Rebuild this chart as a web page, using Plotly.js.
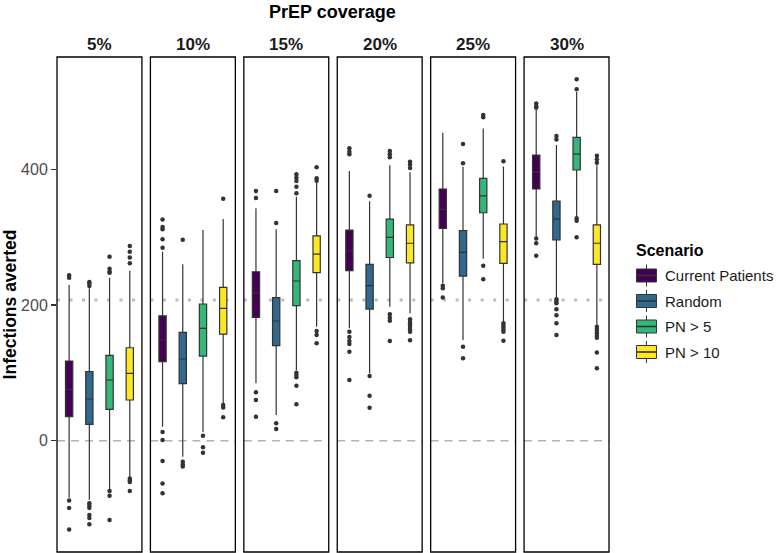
<!DOCTYPE html>
<html>
<head>
<meta charset="utf-8">
<script src="https://cdn.plot.ly/plotly-3.0.1.min.js"></script>
<style>html,body{margin:0;padding:0;background:#fff;}#chart{width:782px;height:553px;}</style>
</head>
<body>
<div id="chart"></div>
<script>
// ---- data ----
const coverages = ['5%', '10%', '15%', '20%', '25%', '30%'];
const scenarios = ['Current Patients', 'Random', 'PN > 5', 'PN > 10'];
const scenarioColors = ['#440154', '#31688E', '#35B779', '#FDE725'];

// rows: scenarios; columns: coverages
const q1 = [
  [35.4, 116.5, 181.9, 250.6, 313, 371],
  [24, 84, 140, 194, 242.7, 295.8],
  [46.3, 124.8, 199, 270, 336, 399],
  [60, 157, 247.6, 262, 261.4, 260]
];
const medians = [
  [75.7, 148.4, 218, 280, 341, 396.5],
  [61.5, 120.4, 176.4, 228.5, 277.7, 326.7],
  [89.5, 165.6, 235.4, 299.7, 360.7, 422.5],
  [99.3, 195, 275, 291, 293.3, 291]
];
const q3 = [
  [117.5, 184, 249, 310.5, 371, 421],
  [102, 159.8, 210.8, 260, 309.5, 353],
  [125.9, 201.5, 265.3, 326.7, 386.7, 447],
  [137, 226, 302, 318, 319.4, 318]
];
const lowerWhisker = [
  [-84, 20.6, 84.6, 165.6, 232, 299],
  [-87, -23.6, 37.9, 99.3, 148.4, 210],
  [-72.7, 13, 104, 197.5, 268, 330],
  [-53, 55, 168, 187.8, 175.4, 170.5]
];
const upperWhisker = [
  [229.5, 278.6, 342.5, 397.5, 454, 487.4],
  [224.6, 260, 311.5, 353, 403.8, 435.8],
  [240, 310.5, 359.6, 406, 460, 514],
  [250.6, 326.8, 380, 395.5, 404, 406]
];
const outliers = [
  [[244, 240, -88, -99, -131], [326, 315, 311.5, 297, 284.5, 13, 1, -30, -63, -77.5], [368, 357.7, 71.3, 60, 35.4], [431, 426, 422, 160.6, 153, 147, 142.5, 131, 89.5], [228.5, 224.6, 211], [497, 493, 490.8, 298, 291, 272.7]],
  [[234, 232, 228, -92, -96, -99, -109.5, -114, -123], [296, -31, -35, -38], [368, 321, 25.6, 17.2], [361, 95.4, 66.3, 48.6], [437.3, 408.8, 138.5, 121.4], [449, 444, 208.4, 205, 202.5, 193.6, 185, 173, 155.8]],
  [[271, 253.5, 249, 247.6, -74, -81, -117], [7.4, -9.8, -17.7], [392.6, 387.6, 382.8, 374.4, 364.6, 100, 96.8, 93.4, 81, 53.6], [427, 422, 417.7, 186.3, 181.3, 176.9, 147], [480, 476.6, 258, 238], [532.6, 518, 327.8, 324.2, 299.8]],
  [[287, 278.6, 270, 261.5, -55.5, -59, -61, -74], [356.7, 52.6, 49, 34.5], [403, 386.7, 383.2, 161.7, 155.8, 143.5], [411, 407, 402, 179, 175, 171.5, 168, 164, 160.6, 148], [412, 173, 169.5, 166.5, 163, 160.6, 147.4], [420, 414.7, 409.7, 168, 164.6, 161.7, 158.3, 154.7, 151.8, 130, 106.7]]
];
const refLineDotted = 207.4;
const refLineDashed = 0;
const yTicks = [0, 200, 400];

// ---- layout geometry ----
const W = 782, H = 553;
const L = 57, T = 57, B = 1;
const plotW = 552.5, plotH = H - T - B;
const R = W - L - plotW;
const panelW = 85, panelStep = 93.5;
const FONT = 'Liberation Sans, Arial, Helvetica, sans-serif';
const xp = px => (px - L) / plotW;
const yp = py => (H - B - py) / plotH;

const traces = [];
const layout = {
  width: W, height: H,
  margin: {l: L, r: R, t: T, b: B, pad: 0},
  paper_bgcolor: '#ffffff', plot_bgcolor: '#ffffff',
  showlegend: false,
  font: {family: FONT, color: '#1a1a1a'},
  yaxis: {
    range: [-164, 565.5], tickvals: yTicks, ticktext: yTicks.map(String),
    ticks: 'outside', ticklen: 5, tickwidth: 1.1, tickcolor: '#333333',
    showgrid: false, zeroline: false, showline: false, fixedrange: true,
    tickfont: {family: FONT, size: 16, color: '#4d4d4d'},
    anchor: 'x',
    title: {text: '<b>Infections averted</b>', standoff: 5,
            font: {family: FONT, size: 17.5, color: '#000000'}}
  },
  shapes: [],
  annotations: [{
    text: '<b>PrEP coverage</b>', xref: 'paper', yref: 'paper',
    x: xp(333), y: yp(12), xanchor: 'center', yanchor: 'middle', showarrow: false,
    font: {family: FONT, size: 18, color: '#000000'}
  }]
};

coverages.forEach((cov, i) => {
  const ax = i === 0 ? 'x' : 'x' + (i + 1);
  const axKey = i === 0 ? 'xaxis' : 'xaxis' + (i + 1);
  const d0 = (i * panelStep) / plotW, d1 = (i * panelStep + panelW) / plotW;
  layout[axKey] = {
    domain: [d0, Math.min(d1, 1)], range: [-0.6, 3.6], anchor: 'y',
    showticklabels: false, ticks: '', showgrid: false, zeroline: false, showline: false,
    fixedrange: true
  };
  // reference lines
  layout.shapes.push({type: 'line', xref: ax + ' domain', yref: 'y', x0: 0, x1: 1,
    y0: refLineDashed, y1: refLineDashed, layer: 'below',
    line: {color: '#b3b3b3', width: 1.5, dash: '8px,6px'}});
  layout.shapes.push({type: 'line', xref: ax + ' domain', yref: 'y', x0: 0, x1: 1,
    y0: refLineDotted, y1: refLineDotted, layer: 'below',
    line: {color: '#bdbdbd', width: 3, dash: '3px,9.5px'}});
  // panel border
  layout.shapes.push({type: 'rect', xref: ax + ' domain', yref: 'y domain', x0: 0, x1: 1,
    y0: 0, y1: 1, layer: 'above', line: {color: '#000000', width: 1.3}});
  // strip label
  layout.annotations.push({text: '<b>' + cov + '</b>', xref: ax + ' domain', x: 0.5,
    yref: 'paper', y: yp(44), xanchor: 'center', yanchor: 'middle', showarrow: false,
    font: {family: FONT, size: 17, color: '#1a1a1a'}});

  scenarios.forEach((sc, s) => {
    traces.push({
      type: 'box', name: sc, x: [s], xaxis: ax, yaxis: 'y',
      q1: [q1[s][i]], median: [medians[s][i]], q3: [q3[s][i]],
      lowerfence: [lowerWhisker[s][i]], upperfence: [upperWhisker[s][i]],
      width: 0.36, whiskerwidth: 0, boxpoints: false,
      fillcolor: scenarioColors[s], line: {color: '#333333', width: 1.2},
      hoverinfo: 'skip', showlegend: false
    });
    const out = outliers[s][i];
    traces.push({
      type: 'scatter', mode: 'markers', name: sc, xaxis: ax, yaxis: 'y',
      x: out.map(() => s), y: out,
      marker: {color: '#333333', size: 4.5}, hoverinfo: 'skip', showlegend: false
    });
  });
});

// ---- legend (drawn) ----
layout.annotations.push({text: '<b>Scenario</b>', xref: 'paper', yref: 'paper',
  x: xp(634.5), y: yp(250.5), xanchor: 'left', yanchor: 'middle', showarrow: false,
  font: {family: FONT, size: 16, color: '#000000'}});
const keyCenters = [275.5, 301, 326.5, 352];
scenarios.forEach((sc, s) => {
  const c = keyCenters[s];
  layout.shapes.push({type: 'line', xref: 'paper', yref: 'paper',
    x0: xp(647), x1: xp(647), y0: yp(c - 11), y1: yp(c + 11),
    line: {color: '#333333', width: 1}});
  layout.shapes.push({type: 'rect', xref: 'paper', yref: 'paper',
    x0: xp(637), x1: xp(657), y0: yp(c - 6.5), y1: yp(c + 6.5),
    fillcolor: scenarioColors[s], line: {color: '#333333', width: 1}});
  layout.shapes.push({type: 'line', xref: 'paper', yref: 'paper',
    x0: xp(637), x1: xp(657), y0: yp(c), y1: yp(c),
    line: {color: '#333333', width: 1.6}});
  layout.annotations.push({text: sc, xref: 'paper', yref: 'paper',
    x: xp(664), y: yp(c), xanchor: 'left', yanchor: 'middle', showarrow: false,
    font: {family: FONT, size: 15, color: '#1a1a1a'}});
});

Plotly.newPlot('chart', traces, layout, {displayModeBar: false, staticPlot: true});
</script>
</body>
</html>
